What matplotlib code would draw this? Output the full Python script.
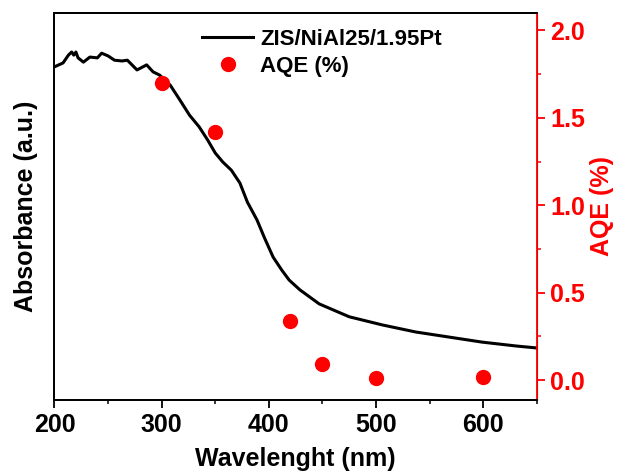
import matplotlib.pyplot as plt
from matplotlib.ticker import MultipleLocator

plt.rcParams['font.family'] = ['Liberation Sans', 'DejaVu Sans']
plt.rcParams['font.weight'] = 'bold'

# absorbance spectrum (arbitrary units)
wavelength = [200, 208, 213, 216, 218, 220, 222, 227, 233, 240, 244, 250, 256,
              263, 268, 277, 286, 292, 298, 308, 317, 326, 335, 343, 350, 357,
              365, 373, 380, 389, 396, 404, 412, 419, 429, 438, 447, 475, 506,
              537, 568, 599, 631, 650]
absorbance = [0.862, 0.872, 0.892, 0.900, 0.892, 0.900, 0.885, 0.874, 0.887,
              0.885, 0.897, 0.890, 0.879, 0.877, 0.879, 0.854, 0.867, 0.849,
              0.841, 0.815, 0.777, 0.738, 0.708, 0.674, 0.641, 0.618, 0.597,
              0.564, 0.515, 0.469, 0.423, 0.374, 0.341, 0.315, 0.290, 0.272,
              0.254, 0.221, 0.200, 0.182, 0.169, 0.156, 0.146, 0.141]

# apparent quantum efficiency
aqe_wl = [300, 350, 420, 450, 500, 600]
aqe = [1.70, 1.42, 0.34, 0.09, 0.01, 0.02]

fig = plt.figure(figsize=(6.17, 4.75), dpi=100)
ax = fig.add_axes([0.0883, 0.158, 0.7817, 0.8146])
ax2 = ax.twinx()

l1, = ax.plot(wavelength, absorbance, color='black', lw=2.2, label='ZIS/NiAl25/1.95Pt')
p1, = ax2.plot(aqe_wl, aqe, 'o', color='red', ms=10, label='AQE (%)')

ax.set_xlim(200, 650)
ax.set_ylim(0.0077, 1.0)
ax.set_yticks([])
ax.xaxis.set_major_locator(MultipleLocator(100))
ax.xaxis.set_minor_locator(MultipleLocator(50))
ax.tick_params(axis='x', which='major', direction='out', length=6, width=1.3, labelsize=18)
ax.tick_params(axis='x', which='minor', direction='out', length=3, width=1.1)
ax.set_xlabel('Wavelenght (nm)', fontsize=18, fontweight='bold', labelpad=7)
ax.set_ylabel('Absorbance (a.u.)', fontsize=18, fontweight='bold', labelpad=12)

ax2.set_ylim(-0.114, 2.1)
ax2.yaxis.set_major_locator(MultipleLocator(0.5))
ax2.yaxis.set_minor_locator(MultipleLocator(0.25))
ax2.tick_params(axis='y', which='major', colors='red', direction='out', length=6, width=1.3, labelsize=18)
ax2.tick_params(axis='y', which='minor', colors='red', direction='out', length=3, width=1.1)
ax2.set_ylabel('AQE (%)', color='red', fontsize=18, fontweight='bold')
ax2.spines['right'].set_color('red')
for s in ['left', 'top', 'bottom']:
    ax.spines[s].set_linewidth(1.3)
    ax2.spines[s].set_linewidth(1.3)
ax2.spines['right'].set_linewidth(1.3)

ax.legend(handles=[l1, p1], loc='upper left', bbox_to_anchor=(0.265, 1.01),
          frameon=False, handlelength=2.3, handletextpad=0.3,
          labelspacing=0.25, prop={'weight': 'bold', 'size': 16})

fig.savefig('out.png', dpi=100)
